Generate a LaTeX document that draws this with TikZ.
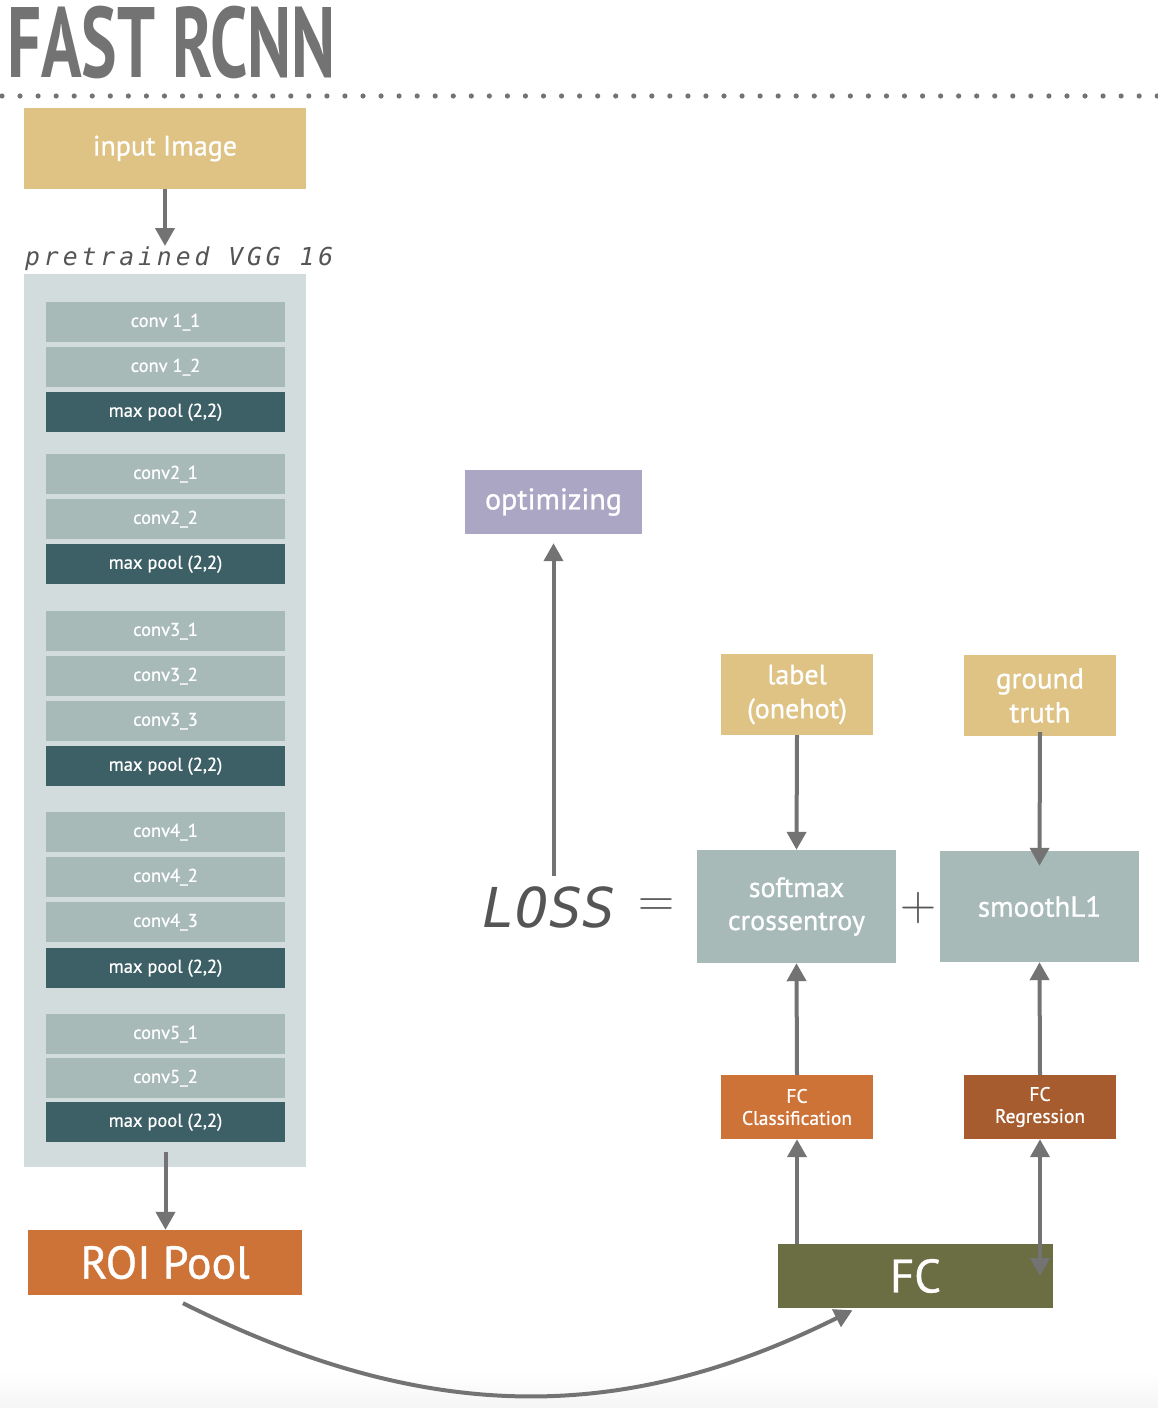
\documentclass[tikz,border=0pt]{standalone}
\usepackage[no-math]{fontspec}
\setmainfont{PT Sans}[FakeBold=0.8]
\newfontfamily\titlefont{PT Sans Bold}[FakeStretch=0.67]
\newfontfamily\codefont{DejaVu Sans Mono}
\newfontfamily\spacedcode{DejaVu Sans Mono}[LetterSpace=16]
\newfontfamily\symfont{Latin Modern Roman}
\usetikzlibrary{positioning,calc,arrows.meta}

\definecolor{arrowgray}{HTML}{737373}
\definecolor{titlegray}{HTML}{737373}
\definecolor{codegray}{HTML}{555555}
\definecolor{sand}{HTML}{DFC385}
\definecolor{vggbg}{HTML}{D3DCDC}
\definecolor{convlight}{HTML}{A7BAB8}
\definecolor{pooldark}{HTML}{3D5F66}
\definecolor{roiorange}{HTML}{CD7337}
\definecolor{regbrown}{HTML}{A65C2E}
\definecolor{fcolive}{HTML}{6B6D42}
\definecolor{optpurple}{HTML}{ABA6C4}

\tikzset{
  box/.style={inner sep=0pt, align=center, text=white, font=\fontsize{28}{33}\selectfont},
  layer/.style={box, minimum width=239, minimum height=40, anchor=north, font=\fontsize{18.5}{22}\selectfont},
  flow/.style={draw=arrowgray, line width=4, -{Triangle[width=19,length=18]}},
  flowboth/.style={draw=arrowgray, line width=4, {Triangle[width=19,length=18]}-{Triangle[width=19,length=18]}},
}

\begin{document}
\begin{tikzpicture}[x=1pt,y=-1pt]
\useasboundingbox (0,0) rectangle (1158,1408);
\shade[top color=white, bottom color=black!4, draw=none] (0,1372) rectangle (1158,1408);

% title and dotted rule
\node[anchor=base west, inner sep=0, text=titlegray, font=\titlefont\fontsize{100}{100}\selectfont] (title) at (7,77) {FAST RCNN};
\foreach \i in {0,...,64}
  \fill[arrowgray] (2+18.05*\i,96) circle[radius=2.6];

% backbone
\node[box, fill=sand, minimum width=282, minimum height=81] (input) at (165,148.5) {input Image};
\node[anchor=base west, inner sep=0, text=codegray, font=\spacedcode\itshape\fontsize{24.7}{26}\selectfont] (vgglabel) at (25,265) {pretrained VGG 16};
\node[fill=vggbg, inner sep=0, minimum width=282, minimum height=893, anchor=north] (vgg) at (165,274) {};
\foreach \top/\name/\txt/\col in {
    302/c11/{conv 1\_1}/convlight, 347/c12/{conv 1\_2}/convlight, 392/p1/{max pool (2,2)}/pooldark,
    454/c21/{conv2\_1}/convlight, 499/c22/{conv2\_2}/convlight, 544/p2/{max pool (2,2)}/pooldark,
    611/c31/{conv3\_1}/convlight, 656/c32/{conv3\_2}/convlight, 701/c33/{conv3\_3}/convlight, 746/p3/{max pool (2,2)}/pooldark,
    812/c41/{conv4\_1}/convlight, 857/c42/{conv4\_2}/convlight, 902/c43/{conv4\_3}/convlight, 948/p4/{max pool (2,2)}/pooldark,
    1014/c51/{conv5\_1}/convlight, 1058/c52/{conv5\_2}/convlight, 1102/p5/{max pool (2,2)}/pooldark}
  \node[layer, fill=\col] (\name) at (165.5,\top) {\txt};
\node[box, fill=roiorange, minimum width=274, minimum height=65, font=\fontsize{46}{46}\selectfont] (roi) at (165,1262.5) {ROI Pool};

\draw[flow] (input.south) -- (input.south |- vgglabel.north);
\draw[flow] ($(p5.south)+(0,10)$) -- (p5.south |- roi.north);

% heads
\node[box, fill=fcolive, minimum width=275, minimum height=64, font=\fontsize{47}{47}\selectfont] (fc) at (915.5,1276) {FC};
\node[box, fill=roiorange, minimum width=152, minimum height=64, font=\fontsize{19.5}{22}\selectfont] (fccls) at (797,1107) {FC\\Classification};
\node[box, fill=regbrown, minimum width=152, minimum height=64, font=\fontsize{19.5}{22}\selectfont] (fcreg) at (1040,1107) {FC\\Regression};

% loss
\node[box, fill=convlight, minimum width=199, minimum height=113] (softmax) at (796.5,906.5) {softmax\\crossentroy};
\node[box, fill=convlight, minimum width=199, minimum height=111, font=\fontsize{29}{33}\selectfont] (smooth) at (1039.5,906.5) {smoothL1};
\node[box, fill=sand, minimum width=152, minimum height=81, font=\fontsize{28}{34}\selectfont] (label) at (797,694.5) {label\\(onehot)};
\node[box, fill=sand, minimum width=152, minimum height=81, font=\fontsize{29}{34}\selectfont] (truth) at (1040,695.5) {ground\\truth};
\node[inner sep=0, text=codegray, font=\codefont\itshape\fontsize{55}{55}\selectfont] (loss) at (549,907) {LOSS};
\node[inner sep=0, text=codegray, font=\symfont\fontsize{50}{50}\selectfont] (eq) at (656,908) {=};
\node[inner sep=0, text=codegray, font=\symfont\fontsize{50}{50}\selectfont] (plus) at (918,908) {+};
\node[box, fill=optpurple, minimum width=177, minimum height=64, font=\fontsize{30}{30}\selectfont] (opt) at (553.5,502) {optimizing};

\draw[flow] ($(roi.south)+(18,8)$) .. controls (427,1425) and (622,1425) .. ($(fc.south)+(-63,2)$);
\draw[flow] (fccls.south |- fc.north) -- (fccls.south);
\draw[flowboth] (fcreg.south |- fc.center) -- (fcreg.south);
\draw[flow] (fccls.north) -- (softmax.south);
\draw[flow] (fcreg.north) -- (smooth.south);
\draw[flow] (label.south) -- (softmax.north);
\draw[flow] ($(truth.south)+(0,-4)$) -- ($(smooth.north)+(0,15)$);
\draw[flow] ($(opt.south |- loss.north)+(0,-10)$) -- ($(opt.south)+(0,9)$);
\end{tikzpicture}
\end{document}
